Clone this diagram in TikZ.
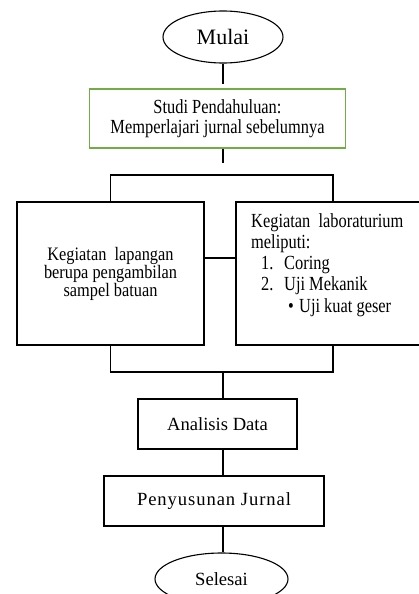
\documentclass[tikz,border=0pt]{standalone}
\usepackage{fontspec}
\setmainfont{Liberation Serif}
\newfontfamily\bodyfont[FakeStretch=0.82]{Liberation Serif}
\newfontfamily\leftfont[FakeStretch=0.86]{Liberation Serif}
\usetikzlibrary{shapes.geometric}
\definecolor{officegreen}{RGB}{112,173,71}
\lineskiplimit=-20pt
\tikzset{
  line/.style={draw=black, line width=1.1pt},
  terminal/.style={ellipse, line, inner sep=0pt, font=\fontsize{22}{24}\selectfont},
  endterm/.style={ellipse, line, inner sep=0pt, font=\fontsize{18.6}{20}\selectfont},
  greenbox/.style={rectangle, draw=officegreen, line width=1.3pt, inner sep=0pt, align=center,
    font=\bodyfont\fontsize{20}{20.5}\selectfont},
  bigbox/.style={rectangle, line, inner sep=0pt, align=center,
    font=\leftfont\fontsize{19}{18}\selectfont},
  smallbox/.style={rectangle, line, inner sep=0pt, minimum height=50pt, font=\fontsize{18.6}{20}\selectfont},
  rline/.style={anchor=base west, inner sep=0pt, font=\bodyfont\fontsize{20}{20}\selectfont},
  conn/.style={line}
}
\begin{document}
\begin{tikzpicture}[x=1pt, y=-1pt]
\useasboundingbox (0,0) rectangle (419,594);
\clip (0,0) rectangle (419,594);
\fill[white] (0,0) rectangle (419,594);

\node[terminal, minimum width=120pt, minimum height=52pt] (mulai) at (223,37) {Mulai};
\node[greenbox, minimum width=256pt, minimum height=59pt] (studi) at (217.5,118.5)
  {Studi Pendahuluan:\\Memperlajari jurnal sebelumnya};
\node[bigbox, minimum width=187pt, minimum height=143pt] (lbox) at (110.5,273.5)
  {Kegiatan\ \ lapangan\\berupa pengambilan\\sampel batuan};
\node[bigbox, minimum width=194pt, minimum height=143pt] (rbox) at (333,273.5) {};
\node[rline] (r1) at (251,227.5) {Kegiatan\ \ laboraturium};
\node[rline] (r2) at (251,248) {meliputi:};
\node[rline] (r3a) at (261,269) {1.};
\node[rline] (r3b) at (284,269) {Coring};
\node[rline] (r4a) at (261,290) {2.};
\node[rline] (r4b) at (284,290) {Uji Mekanik};
\node[rline] (r5a) at (288,312) {•};
\node[rline] (r5b) at (299,312) {Uji kuat geser};
\node[smallbox, minimum width=159pt] (ana) at (217.5,424) {Analisis Data};
\node[smallbox, minimum width=220pt] (pen) at (214,501) {\addfontfeature{LetterSpace=5}Penyusunan Jurnal};
\node[endterm, minimum width=133pt, minimum height=52pt] (sel) at (221.5,579) {Selesai};

\coordinate (tb) at (223,175);
\coordinate (mid) at (220,258);
\coordinate (bb) at (223,372);

\draw[conn, shorten >=4pt] (mulai.south) -- (mulai.south |- studi.north);
\draw[conn, shorten >=12pt] (mulai.south |- studi.south) -- (tb);
\draw[conn] (lbox.north) -- (lbox.north |- tb) -- (rbox.north |- tb) -- (rbox.north);
\draw[conn] (lbox.east |- mid) -- (rbox.west |- mid);
\draw[conn] (lbox.south) -- (lbox.south |- bb) -- (rbox.south |- bb) -- (rbox.south);
\draw[conn] (bb) -- (bb |- ana.north);
\draw[conn] (bb |- ana.south) -- (bb |- pen.north);
\draw[conn] (bb |- pen.south) -- (bb |- sel.north);
\end{tikzpicture}
\end{document}
